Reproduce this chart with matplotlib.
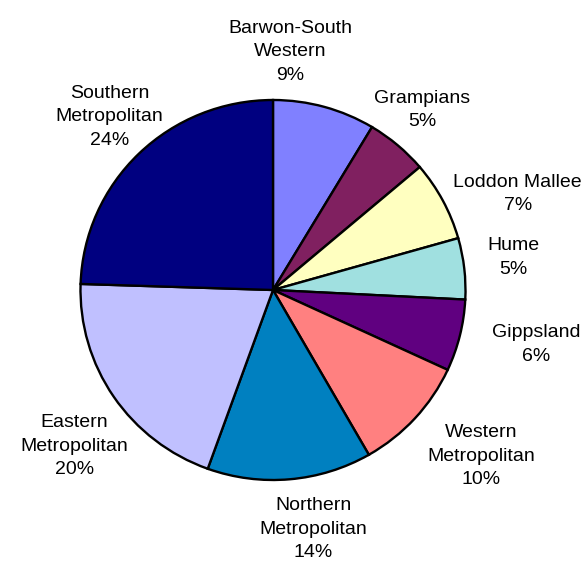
import matplotlib
matplotlib.use("Agg")
import matplotlib.pyplot as plt

regions = ["Barwon-South\nWestern", "Grampians", "Loddon Mallee", "Hume", "Gippsland",
           "Western\nMetropolitan", "Northern\nMetropolitan", "Eastern\nMetropolitan",
           "Southern\nMetropolitan"]
shares = [8.6, 5.2, 6.8, 5.2, 6.1, 9.8, 13.8, 20.0, 24.49]
colors = ["#8080FF", "#802060", "#FFFFC0", "#A0E0E0", "#600080",
          "#FF8080", "#0080C0", "#C0C0FF", "#000080"]

plt.rcParams["font.family"] = ["Liberation Sans", "DejaVu Sans"]

fig = plt.figure(figsize=(5.84, 5.73), dpi=100)
rx, ry = 192.5, 190
cx, cy = 273, 290
ax = fig.add_axes([(cx - rx) / 584, (573 - cy - ry) / 573, 2 * rx / 584, 2 * ry / 573])

total = sum(shares)
labels = [f"{n}\n{round(v / total * 100):.0f}%" for n, v in zip(regions, shares)]

wedges, texts = ax.pie(shares, colors=colors, startangle=90, counterclock=False,
                       wedgeprops=dict(edgecolor="black", linewidth=1.7))
ax.set_aspect("auto")
ax.set_xlim(-1, 1)
ax.set_ylim(-1, 1)

# label centres, in units of the pie radius
label_xy = [(0.089, 1.255), (0.776, 0.948), (1.271, 0.505), (1.25, 0.172),
            (1.365, -0.286), (1.083, -0.875), (0.208, -1.26), (-1.031, -0.823),
            (-0.849, 0.911)]
for lab, (x, y) in zip(labels, label_xy):
    ax.text(x, y, lab, ha="center", va="center", fontsize=14,
            linespacing=1.5, clip_on=False)

fig.savefig("out.png", dpi=100)
